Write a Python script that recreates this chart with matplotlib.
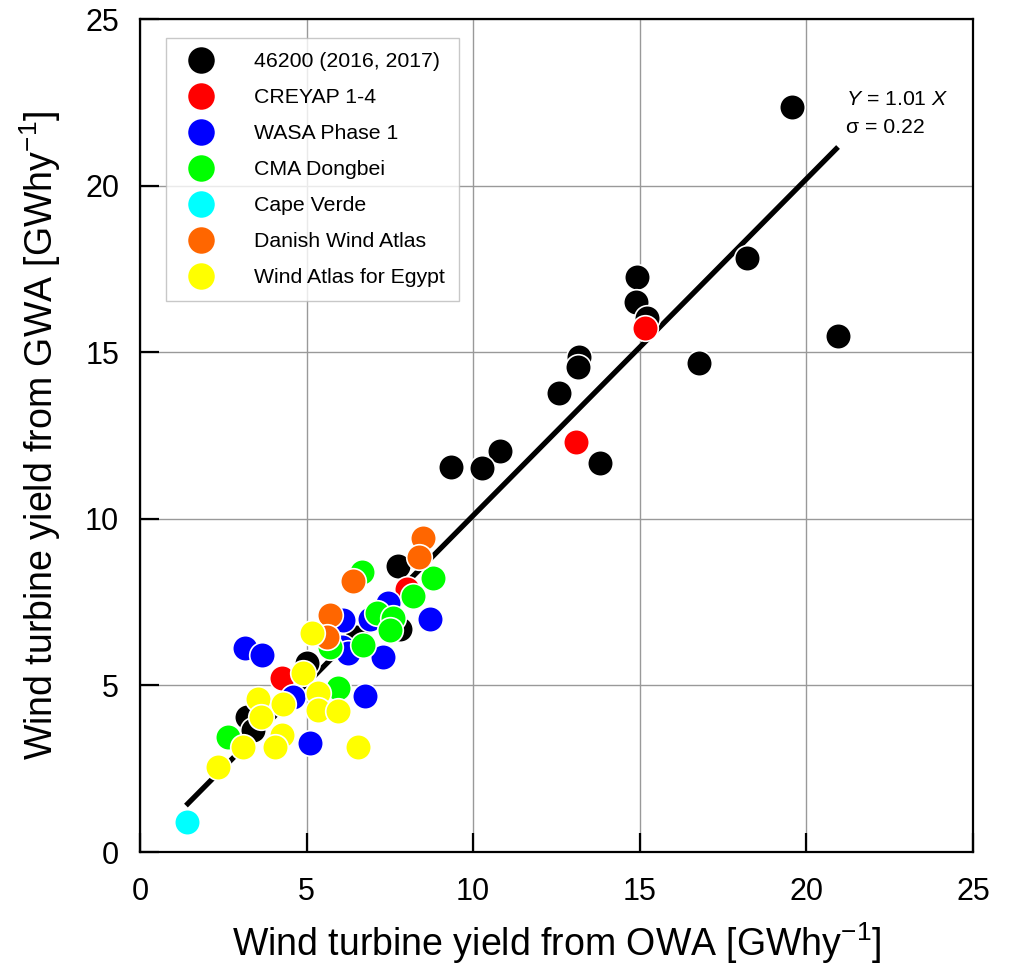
import numpy as np
import matplotlib
matplotlib.use('Agg')
import matplotlib.pyplot as plt

plt.rcParams['font.family'] = ['Liberation Sans', 'DejaVu Sans']
plt.rcParams['mathtext.fontset'] = 'custom'
plt.rcParams['mathtext.rm'] = 'Liberation Sans'
plt.rcParams['mathtext.it'] = 'Liberation Sans:italic'

# data (OWA x, GWA y)
labels = ['46200 (2016, 2017)', 'CREYAP 1-4', 'WASA Phase 1', 'CMA Dongbei',
          'Cape Verde', 'Danish Wind Atlas', 'Wind Atlas for Egypt']
colors = ['#000000', '#ff0000', '#0000ff', '#00ff00', '#00ffff', '#ff6600', '#ffff00']

x_46200 = [19.57, 20.95, 18.22, 16.78, 14.92, 14.89, 15.22, 13.18, 13.15, 12.57, 13.8,
           10.8, 10.26, 9.33, 7.74, 7.8, 5.0, 3.2, 3.4, 6.5]
y_46200 = [22.36, 15.49, 17.83, 14.68, 17.26, 16.51, 16.03, 14.86, 14.56, 13.78, 11.67,
           12.03, 11.52, 11.55, 8.58, 6.7, 5.66, 4.06, 3.66, 6.46]
x_creyap = [15.16, 13.09, 8.0, 4.25]
y_creyap = [15.73, 12.3, 7.9, 5.21]
x_wasa = [3.15, 3.65, 7.45, 6.1, 8.7, 6.05, 6.25, 7.3, 4.6, 6.75, 5.1, 6.9]
y_wasa = [6.11, 5.91, 7.46, 6.96, 6.98, 6.16, 5.96, 5.86, 4.66, 4.68, 3.26, 7.0]
x_cma = [6.65, 8.8, 8.18, 7.1, 7.6, 7.5, 6.68, 5.7, 5.95, 2.65]
y_cma = [8.41, 8.21, 7.69, 7.16, 7.01, 6.66, 6.21, 6.16, 4.91, 3.46]
x_cape = [1.4]
y_cape = [0.91]
x_danish = [8.48, 8.38, 6.38, 5.7, 5.6]
y_danish = [9.41, 8.84, 8.13, 7.11, 6.46]
x_egypt = [5.15, 4.9, 5.35, 3.55, 4.28, 3.62, 5.35, 5.95, 4.25, 4.05, 3.1, 2.35, 6.55]
y_egypt = [6.56, 5.36, 4.76, 4.58, 4.43, 4.06, 4.26, 4.23, 3.51, 3.16, 3.16, 2.56, 3.16]

xs = [x_46200, x_creyap, x_wasa, x_cma, x_cape, x_danish, x_egypt]
ys = [y_46200, y_creyap, y_wasa, y_cma, y_cape, y_danish, y_egypt]

slope = 1.01
fit_x = np.array([1.38, 20.95])

fig = plt.figure(figsize=(10.15, 9.66), dpi=100)
ax = fig.add_axes([0.1379, 0.118, 0.8207, 0.8623])

ax.plot(fit_x, slope * fit_x, color='black', lw=3.8, zorder=2, solid_capstyle='butt')
for i in range(len(labels)):
    ax.scatter(xs[i], ys[i], s=340, c=colors[i], edgecolors='white', linewidths=1.2,
               zorder=3, label=labels[i])

ax.set_xlim(0, 25)
ax.set_ylim(0, 25)
ax.set_xticks(range(0, 26, 5))
ax.set_yticks(range(0, 26, 5))
ax.grid(True, color='#999999', lw=1)
ax.set_axisbelow(True)
ax.tick_params(direction='in', length=14, width=1.6, labelsize=22)
ax.tick_params(axis='x', pad=18)
ax.tick_params(axis='y', pad=15)
for s in ax.spines.values():
    s.set_linewidth(1.6)

ax.set_xlabel(r'Wind turbine yield from OWA [GWhy$^{-1}$]', fontsize=27)
ax.set_ylabel(r'Wind turbine yield from GWA [GWhy$^{-1}$]', fontsize=27)
ax.xaxis.set_label_coords(0.5, -0.082)
ax.yaxis.set_label_coords(-0.092, 0.5)

ax.text(21.2, 22.57, r'$Y$ = 1.01 $X$', fontsize=15.3, va='center')
ax.text(21.2, 21.73, r'σ = 0.22', fontsize=15.3, va='center')

leg = ax.legend(loc='upper left', bbox_to_anchor=(0.031, 0.977), fontsize=15.3,
                frameon=True, fancybox=False, edgecolor='#bbbbbb', borderpad=0.65,
                labelspacing=0.8, handletextpad=1.5, borderaxespad=0,
                scatteryoffsets=[0.5], markerscale=1.1)
leg.get_frame().set_linewidth(1.0)

fig.savefig('out.png', dpi=100)
